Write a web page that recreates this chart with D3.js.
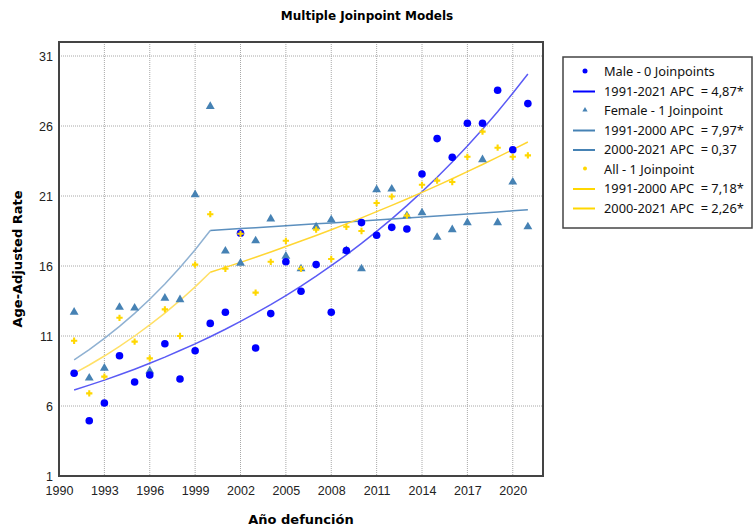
<!DOCTYPE html>
<html>
<head>
    <title>Multiple Joinpoint Models</title>
    <meta charset="utf-8">
    <script src="https://d3js.org/d3.v7.min.js"></script>
    <style>
        body { margin: 0; background: #fff; }
        svg { font-family: "DejaVu Sans", sans-serif; }
        .tick-label { font-size: 12.5px; fill: #222; }
        .grid line { stroke: #a8a8a8; stroke-width: 1; stroke-dasharray: 1,1; }
        .leg { font-family: "Noto Sans", sans-serif; font-size: 12.8px; fill: #111; white-space: pre; }
    </style>
</head>
<body>
<script>
    // Dane - lata i wartości
    var years = [1991, 1992, 1993, 1994, 1995, 1996, 1997, 1998, 1999, 2000,
                 2001, 2002, 2003, 2004, 2005, 2006, 2007, 2008, 2009, 2010,
                 2011, 2012, 2013, 2014, 2015, 2016, 2017, 2018, 2019, 2020, 2021];

    var male = [8.34, 4.95, 6.21, 9.59, 7.71, 8.21, 10.45, 7.93, 9.95, 11.9,
                12.7, 18.34, 10.14, 12.6, 16.3, 14.2, 16.1, 12.7, 17.1, 19.1,
                18.2, 18.76, 18.64, 22.57, 25.1, 23.76, 26.2, 26.2, 28.55, 24.3, 27.6];
    var female = [12.7, 8.0, 8.7, 13.05, 13.0, 8.5, 13.7, 13.6, 21.1, 27.4,
                  17.07, 16.2, 17.8, 19.36, 16.7, 15.8, 18.8, 19.3, 17.1, 15.8,
                  21.45, 21.5, 19.6, 19.8, 18.05, 18.6, 19.1, 23.6, 19.1, 22.0, 18.8];
    var all = [10.66, 6.9, 8.1, 12.3, 10.6, 9.4, 12.9, 11.0, 16.1, 19.7,
               15.8, 18.3, 14.1, 16.3, 17.8, 15.8, 18.6, 16.5, 18.8, 18.5,
               20.5, 20.96, 19.6, 21.8, 22.1, 22.0, 23.8, 25.6, 24.45, 23.8, 23.9];

    // Wartości modelowe (linie)
    var maleModel = [7.14, 7.49, 7.85, 8.23, 8.63, 9.05, 9.49, 9.96, 10.44, 10.95,
                     11.48, 12.04, 12.63, 13.24, 13.89, 14.56, 15.27, 16.02, 16.80, 17.61,
                     18.47, 19.37, 20.31, 21.30, 22.34, 23.43, 24.57, 25.77, 27.02, 28.34, 29.72];
    var femaleModel = [9.29, 10.03, 10.83, 11.69, 12.62, 13.63, 14.72, 15.89, 17.16, 18.53,
                       18.60, 18.67, 18.73, 18.80, 18.87, 18.94, 19.01, 19.08, 19.15, 19.22,
                       19.29, 19.36, 19.43, 19.50, 19.57, 19.65, 19.72, 19.79, 19.86, 19.94, 20.01];
    var allModel = [8.33, 8.93, 9.57, 10.26, 11.00, 11.79, 12.63, 13.54, 14.51, 15.55,
                    15.90, 16.26, 16.63, 17.00, 17.39, 17.78, 18.18, 18.59, 19.01, 19.44,
                    19.88, 20.33, 20.79, 21.26, 21.74, 22.23, 22.74, 23.25, 23.78, 24.31, 24.86];
    var joinYear = 2000;

    var xTicks = [1990, 1993, 1996, 1999, 2002, 2005, 2008, 2011, 2014, 2017, 2020];
    var yTicks = [1, 6, 11, 16, 21, 26, 31];

    var legendLabels = ["Male - 0 Joinpoints", "1991-2021 APC  = 4,87*",
                        "Female - 1 Joinpoint", "1991-2000 APC  = 7,97*", "2000-2021 APC  = 0,37",
                        "All - 1 Joinpoint", "1991-2000 APC  = 7,18*", "2000-2021 APC  = 2,26*"];

    var W = 754, H = 531;
    var plot = {left: 59, top: 42, right: 543, bottom: 476};

    var colMale = "#0000ff", colFemale = "#4682b4", colAll = "#ffd700";

    var x = d3.scaleLinear().domain([1990, 2022]).range([plot.left, plot.right]);
    var y = d3.scaleLinear().domain([1, 32]).range([plot.bottom, plot.top]);

    var svg = d3.select("body").append("svg")
        .attr("width", W)
        .attr("height", H);

    // Siatka
    var grid = svg.append("g").attr("class", "grid");
    grid.selectAll(".vx").data(xTicks.slice(1)).enter().append("line")
        .attr("x1", function(d) { return x(d); }).attr("x2", function(d) { return x(d); })
        .attr("y1", plot.top).attr("y2", plot.bottom);
    grid.selectAll(".hy").data(yTicks.slice(1)).enter().append("line")
        .attr("x1", plot.left).attr("x2", plot.right)
        .attr("y1", function(d) { return y(d); }).attr("y2", function(d) { return y(d); });

    // Osie - same etykiety
    var xAxis = d3.axisBottom(x).tickValues(xTicks).tickFormat(d3.format("d")).tickSize(0).tickPadding(10);
    var yAxis = d3.axisLeft(y).tickValues(yTicks).tickSize(0).tickPadding(6);
    var gx = svg.append("g").attr("transform", "translate(0," + plot.bottom + ")").call(xAxis);
    var gy = svg.append("g").attr("transform", "translate(" + plot.left + ",0)").call(yAxis);
    [gx, gy].forEach(function(g) {
        g.select(".domain").remove();
        g.selectAll("text").attr("class", "tick-label").style("font-family", "'Liberation Sans', sans-serif");
    });

    // Linie modelowe
    var line = d3.line()
        .x(function(d) { return x(d[0]); })
        .y(function(d) { return y(d[1]); });
    function pairs(vals, from, to) {
        return years.map(function(yr, i) { return [yr, vals[i]]; })
                    .filter(function(p) { return p[0] >= from && p[0] <= to; });
    }
    var lines = svg.append("g").attr("fill", "none").attr("stroke-width", 1.5);
    lines.append("path").attr("d", line(pairs(maleModel, 1991, 2021))).attr("stroke", "#5a5af5");
    lines.append("path").attr("d", line(pairs(femaleModel, 1991, joinYear))).attr("stroke", "#8fb1d2");
    lines.append("path").attr("d", line(pairs(femaleModel, joinYear, 2021))).attr("stroke", "#5b8fbe");
    lines.append("path").attr("d", line(pairs(allModel, 1991, joinYear))).attr("stroke", "#ffe066");
    lines.append("path").attr("d", line(pairs(allModel, joinYear, 2021))).attr("stroke", "#ffd633");

    // Punkty
    var tri = d3.symbol().type(d3.symbolTriangle).size(34);
    var cross = d3.symbol().type(d3.symbolCross).size(22);

    svg.append("g").selectAll("path").data(female).enter().append("path")
        .attr("d", tri)
        .attr("transform", function(d, i) { return "translate(" + x(years[i]) + "," + y(d) + ")"; })
        .attr("fill", colFemale);

    svg.append("g").selectAll("circle").data(male).enter().append("circle")
        .attr("cx", function(d, i) { return x(years[i]); })
        .attr("cy", function(d) { return y(d); })
        .attr("r", 3.8)
        .attr("fill", colMale);

    svg.append("g").selectAll("path").data(all).enter().append("path")
        .attr("d", cross)
        .attr("transform", function(d, i) { return "translate(" + x(years[i]) + "," + y(d) + ")"; })
        .attr("fill", colAll);

    // Ramka wykresu
    svg.append("rect")
        .attr("x", plot.left).attr("y", plot.top)
        .attr("width", plot.right - plot.left).attr("height", plot.bottom - plot.top)
        .attr("fill", "none").attr("stroke", "#444").attr("stroke-width", 2);

    // Tytuły
    svg.append("text").attr("x", 367).attr("y", 20)
        .attr("text-anchor", "middle").style("font-weight", "bold").style("font-size", "12px")
        .text("Multiple Joinpoint Models");
    svg.append("text").attr("x", 301).attr("y", 524)
        .attr("text-anchor", "middle").style("font-weight", "bold").style("font-size", "13px")
        .text("Año defunción");
    svg.append("text").attr("transform", "translate(22,259) rotate(-90)")
        .attr("text-anchor", "middle").style("font-weight", "bold").style("font-size", "13px")
        .text("Age-Adjusted Rate");

    // Legenda
    var legend = svg.append("g");
    legend.append("rect")
        .attr("x", 563).attr("y", 57).attr("width", 189).attr("height", 171)
        .attr("fill", "#fff").attr("stroke", "#444").attr("stroke-width", 1.5);

    var legendStyle = [
        {type: "circle", color: colMale},
        {type: "line", color: colMale},
        {type: "tri", color: colFemale},
        {type: "line", color: colFemale},
        {type: "line", color: colFemale},
        {type: "dot", color: colAll},
        {type: "line", color: colAll},
        {type: "line", color: colAll}
    ];
    var rows = legend.selectAll(".row").data(legendLabels).enter().append("g")
        .attr("transform", function(d, i) { return "translate(0," + (72 + i * 19.5) + ")"; });
    rows.each(function(d, i) {
        var g = d3.select(this), s = legendStyle[i];
        if (s.type == "line") {
            g.append("line").attr("x1", 573).attr("x2", 595).attr("stroke", s.color).attr("stroke-width", 2);
        } else if (s.type == "circle") {
            g.append("circle").attr("cx", 585).attr("cy", -1).attr("r", 2.5).attr("fill", s.color);
        } else if (s.type == "tri") {
            g.append("path").attr("d", d3.symbol().type(d3.symbolTriangle).size(12))
                .attr("transform", "translate(585,-1)").attr("fill", s.color);
        } else {
            g.append("circle").attr("cx", 585).attr("cy", -1).attr("r", 2).attr("fill", s.color);
        }
    });
    rows.append("text").attr("class", "leg")
        .attr("x", 604).attr("dy", "0.35em")
        .text(function(d) { return d; });
</script>
</body>
</html>
